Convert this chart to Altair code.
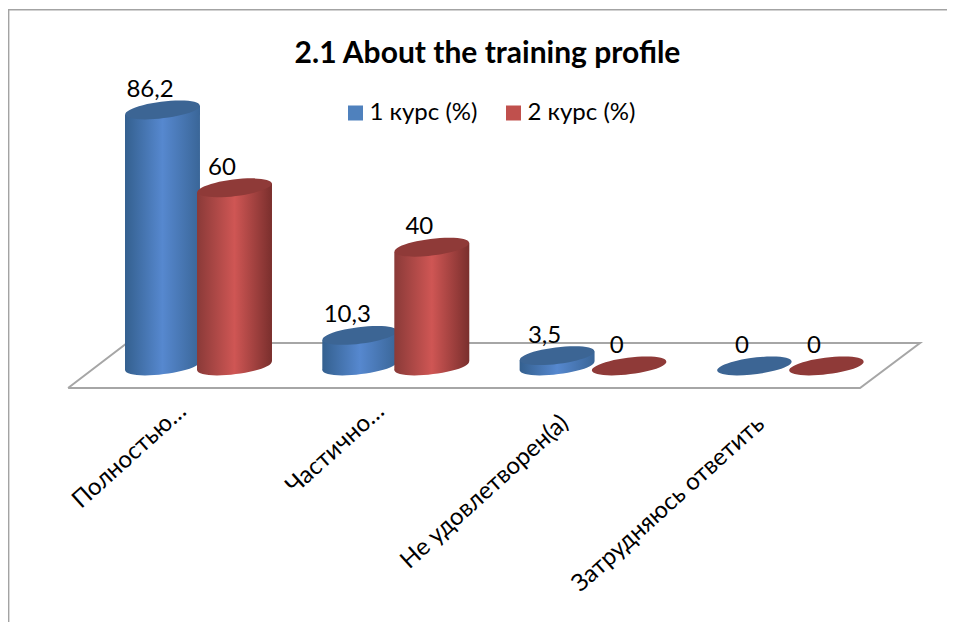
import altair as alt
import pandas as pd

CATEGORIES = ["Полностью…", "Частично…", "Не удовлетворен(а)", "Затрудняюсь ответить"]
SERIES = ["1 курс (%)", "2 курс (%)"]
VALUES_1 = [86.2, 10.3, 3.5, 0]
VALUES_2 = [60, 40, 0, 0]
CAT_LABEL_X = [-0.0786, 0.925, 1.8575, 2.851]
CAT_LABEL_Y = [-14.14, -14.14, -18.18, -18.5]
SIDE = 0.1825       # half distance between the two cylinders, in category units
RADIUS = 0.19       # cylinder half width, in category units
TILT = 1.5          # slope of the cylinder ends, in value units
FLOOR_X = [-0.661, 3.353, 3.657, -0.362, -0.661]
FLOOR_Y = [-7.4, -7.4, 7.74, 7.74, -7.4]
FONT = "Lato"

ELLIPSE = "M-0.9925,0.122 A1,0.22,-7,1,1,0.9925,-0.122 A1,0.22,-7,1,1,-0.9925,0.122 Z"
ELLIPSE_SIZE = 5625

def grad(edge_l, mid, edge_r):
    return alt.Gradient(gradient="linear", x1=0, y1=0, x2=1, y2=0, stops=[
        alt.GradientStop(color=edge_l, offset=0),
        alt.GradientStop(color=mid, offset=0.5),
        alt.GradientStop(color=edge_r, offset=1)])

rows = []
for s, vals, off in ((SERIES[0], VALUES_1, -SIDE), (SERIES[1], VALUES_2, SIDE)):
    for i, v in enumerate(vals):
        rows.append({"series": s, "pos": i + off, "value": v, "zero": 0,
                     "label": str(v).replace(".", ",")})
df = pd.DataFrame(rows)

body_rows = []
for r in rows:
    if r["value"] > 0:
        body_rows.append({**r, "edge": r["pos"] - RADIUS, "top": r["value"] - TILT, "base": -TILT})
        body_rows.append({**r, "edge": r["pos"] + RADIUS, "top": r["value"] + TILT, "base": TILT})
body = pd.DataFrame(body_rows)

floor = pd.DataFrame({"x": FLOOR_X, "y": FLOOR_Y, "o": range(len(FLOOR_X))})
cats = pd.DataFrame({"name": CATEGORIES, "x": CAT_LABEL_X, "y": CAT_LABEL_Y})

xs = alt.Scale(domain=[-0.9655, 3.7937], range=[0, 939], nice=False, zero=False)
ys = alt.Scale(domain=[-11.45, 120.54], range=[392, 0], nice=False, zero=False)

def X(field):
    return alt.X(field, type="quantitative", scale=xs, axis=None)
def Y(field):
    return alt.Y(field, type="quantitative", scale=ys, axis=None)

frame_left = alt.Chart().mark_rule(color="#a3a3a3", strokeWidth=1.6).encode(
    x=alt.value(0.6), y=alt.value(1.8), y2=alt.value(614))
frame_top = alt.Chart().mark_rule(color="#a3a3a3", strokeWidth=1.6).encode(
    x=alt.value(0), x2=alt.value(939), y=alt.value(1.8))

floor_line = alt.Chart(floor).mark_line(color="#a6a6a6", strokeWidth=2).encode(
    x=X("x"), y=Y("y"), order="o:Q")

legend_layer = alt.Chart(df).mark_point(filled=True, size=0).encode(
    x=X("pos"), y=Y("value"),
    color=alt.Color("series:N", scale=alt.Scale(domain=SERIES, range=["#4f81bd", "#c0504d"]),
        legend=alt.Legend(orient="none", legendX=335.5, legendY=93, direction="horizontal",
            title=None, symbolType="square", symbolSize=225, symbolStrokeWidth=0,
            labelFont=FONT, labelFontSize=24, labelColor="#000000", labelOffset=2,
            columnPadding=24, padding=0, symbolOpacity=1)))

def cylinder(series, l, m, r, cap):
    d = df[df.series == series]
    b = d[d.value > 0]
    e = body[body.series == series]
    return [
        alt.Chart(b).mark_point(filled=True, shape=ELLIPSE, size=ELLIPSE_SIZE, fill=grad(l, m, r),
                                opacity=1, strokeWidth=0).encode(x=X("pos"), y=Y("zero")),
        alt.Chart(e).mark_area(fill=grad(l, m, r), opacity=1).encode(
            x=X("edge"), y=Y("top"), y2="base:Q", detail="pos:Q"),
        alt.Chart(d).mark_point(filled=True, shape=ELLIPSE, size=ELLIPSE_SIZE, fill=cap,
                                opacity=1, strokeWidth=0).encode(x=X("pos"), y=Y("value")),
    ]

labels = alt.Chart(df).mark_text(font=FONT, fontSize=24, color="#000000", dx=-12.5, dy=-20).encode(
    x=X("pos"), y=Y("value"), text="label:N")

cat_labels = alt.Chart(cats).mark_text(font=FONT, fontSize=24, color="#000000", angle=318,
                                       align="right", baseline="middle").encode(
    x=X("x"), y=Y("y"), text="name:N")

layers = [floor_line, frame_left, frame_top, legend_layer]
layers += cylinder(SERIES[0], "#34608f", "#5688cf", "#3a6698", "#3c6594")
layers += cylinder(SERIES[1], "#8a3a38", "#cf5654", "#7a2f2d", "#8f3a38")
layers += [labels, cat_labels]

chart = alt.layer(*layers).properties(
    width=939, height=392, background="white",
    padding={"left": 0, "top": 0, "right": 0, "bottom": 222},
    autosize=alt.AutoSizeParams(type="none"),
    title=alt.TitleParams("2.1 About the training profile", font=FONT, fontSize=30,
                          fontWeight="bold", color="#000000", anchor="middle", dx=10, dy=61, offset=0),
).configure_view(stroke=None)

chart.save("out.html", embed_options={"renderer": "svg", "actions": False})
